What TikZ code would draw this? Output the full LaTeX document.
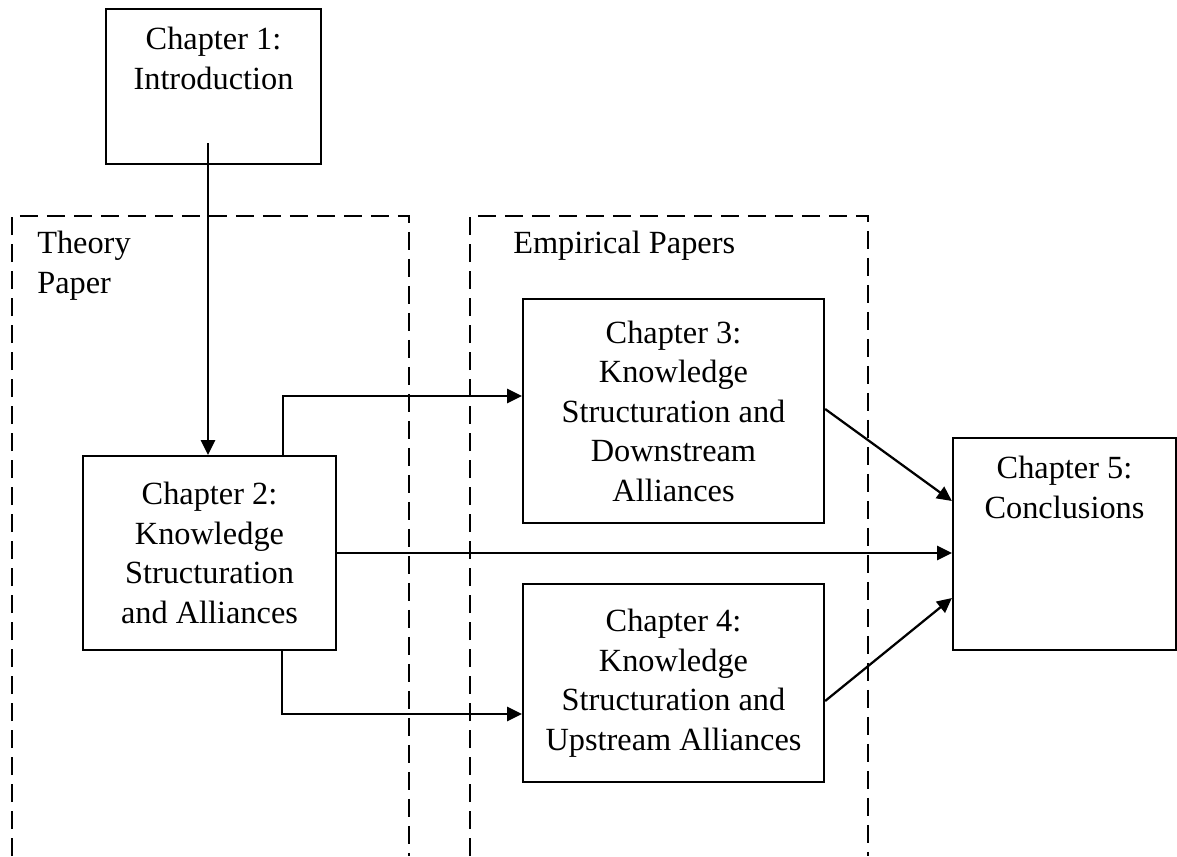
\documentclass[tikz,border=0pt]{standalone}
\usepackage{fontspec}
\setmainfont{Liberation Serif}
\usetikzlibrary{arrows.meta,positioning}
\newlength\pxu\setlength\pxu{0.025cm}
\begin{document}
\begin{tikzpicture}[x=0.025cm,y=-0.025cm,font=\fontsize{23}{28.1}\selectfont,
  chbox/.style={draw,line width=1.6pt,align=center,inner sep=0pt},
  frame/.style={line width=1.4pt,dash pattern=on 12.8pt off 6.4pt},
  arr/.style={line width=1.6pt,-{Triangle[length=10.5pt,width=10pt]}}]
\useasboundingbox (0,0) rectangle (1177,856);
% paper groups
\foreach \l/\r in {12/409,470/868}{\draw[frame] (\l,856)--(\l,216)--(\r,216)--(\r,856);}
\node[inner sep=0pt,align=left,anchor=north west] (thlab) at (37,231) {Theory\\Paper};
\node[inner sep=0pt,anchor=north west] (emlab) at (513,231) {Empirical Papers};
% chapters
\node[chbox,minimum width=215\pxu,minimum height=155\pxu] (ch1) at (213.5,86.5) {};
\node[inner sep=0pt,align=center,anchor=north] (ch1txt) at ([yshift=-19\pxu]ch1.north) {Chapter 1:\\Introduction};
\node[chbox,minimum width=253\pxu,minimum height=194\pxu] (ch2) at (209.5,553) {Chapter 2:\\Knowledge\\Structuration\\and Alliances};
\node[chbox,minimum width=301\pxu,minimum height=224\pxu] (ch3) at (673.5,411) {Chapter 3:\\Knowledge\\Structuration and\\Downstream\\Alliances};
\node[chbox,minimum width=301\pxu,minimum height=198\pxu] (ch4) at (673.5,683) {Chapter 4:\\Knowledge\\Structuration and\\Upstream Alliances};
\node[chbox,minimum width=223\pxu,minimum height=212\pxu] (ch5) at (1064.5,544) {};
\node[inner sep=0pt,align=center,anchor=north] (ch5txt) at ([yshift=-19\pxu]ch5.north) {Chapter 5:\\Conclusions};
% links
\coordinate (ch1out) at (208,143);
\draw[arr] (ch1out)--(ch1out |- ch2.north);
\draw[arr] ([xshift=73.5\pxu]ch2.north) |- ([yshift=15\pxu]ch3.west);
\draw[arr] ([xshift=72.5\pxu]ch2.south) |- ([yshift=-31\pxu]ch4.west);
\draw[arr] (ch2.east)--(ch2.east -| ch5.west);
\draw[arr] ([yshift=2\pxu]ch3.east)--([yshift=43\pxu]ch5.west);
\draw[arr] ([yshift=-18\pxu]ch4.east)--([yshift=-54\pxu]ch5.west);
\end{tikzpicture}
\end{document}
